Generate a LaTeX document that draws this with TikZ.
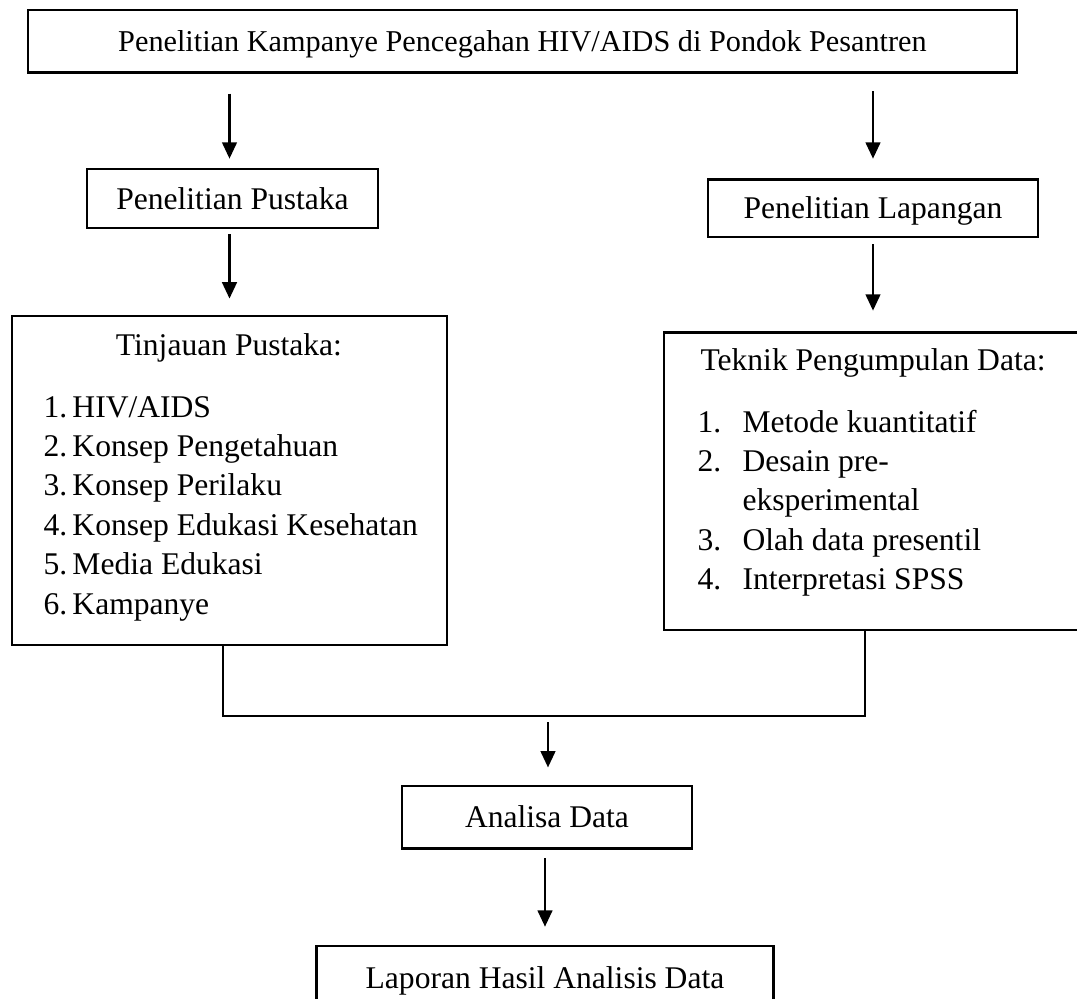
\documentclass[tikz,border=0pt]{standalone}
\usepackage{fontspec}
\setmainfont{Liberation Serif}
\usetikzlibrary{arrows.meta,positioning}
\tikzset{%
	block/.style    = {draw, rectangle, line width=1.1pt, inner sep=0pt, text height=8.2pt, text depth=0pt, font=\fontsize{12}{15}\selectfont},
	teks/.style     = {inner sep=0pt, font=\fontsize{12}{15}\selectfont}, % text inside the big boxes
	arrow/.style    = {line width=0.8pt, -{Triangle[width=5.6pt,length=6.2pt]}},
	line/.style     = {line width=0.7pt},
	waypoint/.style = {coordinate},
}

\begin{document}
\begin{tikzpicture}[x=0.38pt, y=-0.38pt]
	\useasboundingbox (0,0) rectangle (1077,999);
	\node[block, minimum width=375.8pt, minimum height=23.6pt, font=\fontsize{11.5}{15}\selectfont] (judul) at (522.5,41) {Penelitian Kampanye Pencegahan HIV/AIDS di Pondok Pesantren};
	\node[block, minimum width=110.6pt, minimum height=22.4pt] (pustaka) at (232.5,198.5) {Penelitian Pustaka};
	\node[block, minimum width=125.4pt, minimum height=22pt] (lapangan) at (873,208) {Penelitian Lapangan};
	\node[block, minimum width=165.3pt, minimum height=125pt] (tinjauan) at (229.5,480.5) {};
	\node[block, minimum width=163.8pt, minimum height=113.2pt] (teknik) at (879.5,481) {};
	\node[block, minimum width=110.2pt, minimum height=23.6pt] (analisa) at (547,817) {Analisa Data};
	\node[block, minimum width=174pt, minimum height=24.3pt] (laporan) at (545,978) {Laporan Hasil Analisis Data};
	
	\node[teks, anchor=base] (tinjauanjudul) at (229,355) {Tinjauan Pustaka:};
	\node[teks, anchor=base west] (tinjauanisi) at (43,417) {%
		\begin{tabular}[t]{@{}p{11pt}@{}l@{}}
			1. & HIV/AIDS\\
			2. & Konsep Pengetahuan\\
			3. & Konsep Perilaku\\
			4. & Konsep Edukasi Kesehatan\\
			5. & Media Edukasi\\
			6. & Kampanye
		\end{tabular}};
	\node[teks, anchor=base west] (teknikjudul) at (700,370) {Teknik Pengumpulan Data:};
	\node[teks, anchor=base west] (teknikisi) at (697,432) {%
		\begin{tabular}[t]{@{}p{17.1pt}@{}l@{}}
			1. & Metode kuantitatif\\
			2. & Desain pre-\\
			   & eksperimental\\
			3. & Olah data presentil\\
			4. & Interpretasi SPSS
		\end{tabular}};
	
	\node[waypoint] (kiri) at (223,716) {};
	\node[waypoint] (kanan) at (865,716) {};
	\node[waypoint] (gabung) at (548,716) {};
	
	\draw[arrow, shorten <=7.6pt, shorten >=3.4pt] (judul.south -| tinjauan.north) -- (pustaka.north -| tinjauan.north);
	\draw[arrow, shorten <=6.8pt, shorten >=7.2pt] (judul.south -| lapangan.north) -- (lapangan.north);
	\draw[arrow, shorten <=1.9pt, shorten >=6.1pt] (pustaka.south -| tinjauan.north) -- (tinjauan.north);
	\draw[arrow, shorten <=2.3pt, shorten >=7.6pt] (lapangan.south) -- (teknik.north -| lapangan.south);
	\draw[line] (tinjauan.south -| kiri) -- (kiri) -- (kanan) -- (teknik.south -| kanan);
	\draw[arrow, shorten <=2.3pt, shorten >=6.5pt] (gabung) -- (analisa.north -| gabung);
	\draw[arrow, shorten <=3.4pt, shorten >=6.8pt] (analisa.south -| laporan.north) -- (laporan.north);
\end{tikzpicture}
\end{document}
